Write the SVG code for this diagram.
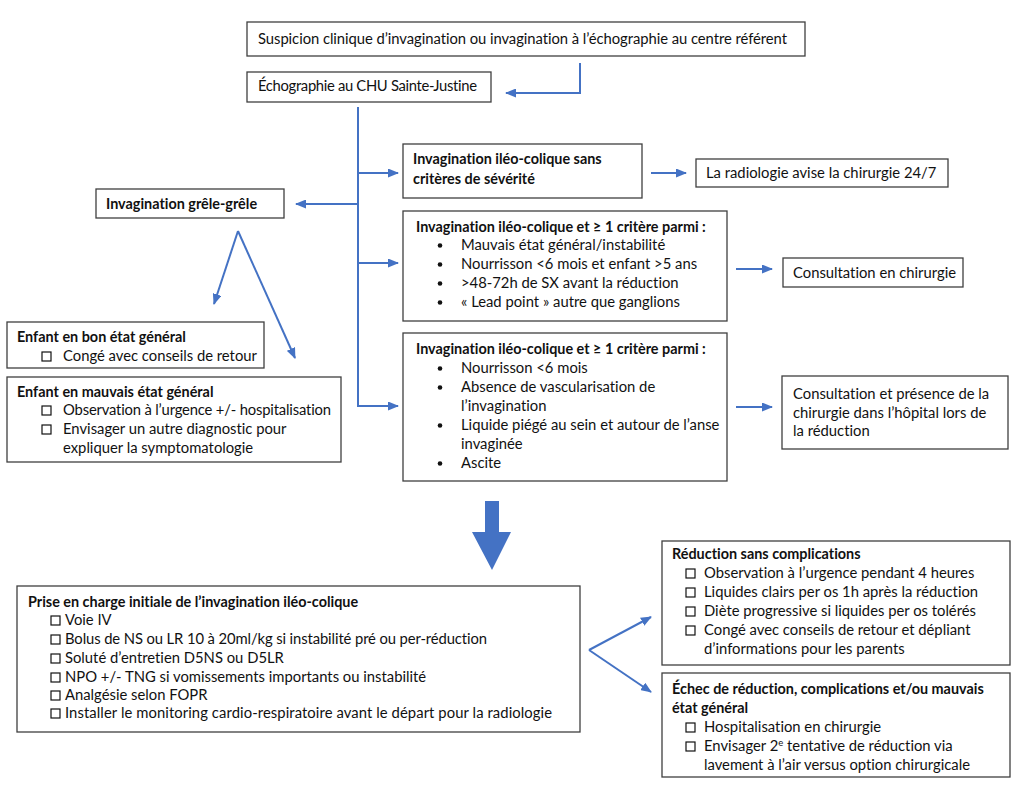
<svg xmlns="http://www.w3.org/2000/svg" width="1024" height="791" viewBox="0 0 1024 791">
<defs>
<style>
.box{fill:#fff;stroke:#3f3f3f;stroke-width:1.3}
.t{font-family:Lato,"Liberation Sans",sans-serif;font-size:14.8px;fill:#111;font-variant-ligatures:none}
.b{font-weight:bold;font-size:14.4px}
.cb{fill:none;stroke:#111;stroke-width:1.2}
.con{fill:none;stroke:#4472C4;stroke-width:2}
.dot{fill:#111}
</style>
<marker id="ah" markerUnits="userSpaceOnUse" markerWidth="11" markerHeight="9" refX="10" refY="4.5" orient="auto">
<path d="M0,0 L11,4.5 L0,9 z" fill="#4472C4"/>
</marker>
</defs>
<rect width="1024" height="791" fill="#fff"/>

<g id="connectors">
<path class="con" d="M580,63 V93 H506" marker-end="url(#ah)"/>
<path class="con" d="M358,107 V407"/>
<path class="con" d="M358,173 H398" marker-end="url(#ah)"/>
<path class="con" d="M358,263 H398" marker-end="url(#ah)"/>
<path class="con" d="M358,406 H398" marker-end="url(#ah)"/>
<path class="con" d="M358,204 H296" marker-end="url(#ah)"/>
<path class="con" d="M651,173 H686" marker-end="url(#ah)"/>
<path class="con" d="M736,269 H772" marker-end="url(#ah)"/>
<path class="con" d="M736,407 H772" marker-end="url(#ah)"/>
<path class="con" d="M238,231 L214,304" marker-end="url(#ah)"/>
<path class="con" d="M238,231 L295,358" marker-end="url(#ah)"/>
<path class="con" d="M589,650 L651,617" marker-end="url(#ah)"/>
<path class="con" d="M589,650 L651,692" marker-end="url(#ah)"/>
<polygon points="485,501 499,501 499,532 511,532 492,570 472,532 485,532" fill="#4472C4"/>
</g>

<g id="n-suspicion">
<rect class="box" x="247" y="22" width="558" height="34"/>
<text class="t" x="258" y="44" textLength="529">Suspicion clinique d’invagination ou invagination à l’échographie au centre référent</text>
</g>

<g id="n-echo">
<rect class="box" x="247" y="72" width="244" height="30"/>
<text class="t" x="258" y="91" textLength="219">Échographie au CHU Sainte-Justine</text>
</g>

<g id="n-sans">
<rect class="box" x="403" y="144" width="239" height="54"/>
<text class="t b" x="413" y="164">Invagination iléo-colique sans</text>
<text class="t b" x="413" y="184">critères de sévérité</text>
</g>

<g id="n-radiologie">
<rect class="box" x="696" y="159" width="252" height="28"/>
<text class="t" x="706" y="178">La radiologie avise la chirurgie 24/7</text>
</g>

<g id="n-crit1">
<rect class="box" x="403" y="211" width="324" height="110"/>
<text class="t b" x="416" y="232">Invagination iléo-colique et ≥ 1 critère parmi :</text>
<circle class="dot" cx="440" cy="245.5" r="2.3"/>
<text class="t" x="461" y="250">Mauvais état général/instabilité</text>
<circle class="dot" cx="440" cy="264.5" r="2.3"/>
<text class="t" x="461" y="269">Nourrisson &lt;6 mois et enfant &gt;5 ans</text>
<circle class="dot" cx="440" cy="283.5" r="2.3"/>
<text class="t" x="461" y="288">&gt;48-72h de SX avant la réduction</text>
<circle class="dot" cx="440" cy="302.5" r="2.3"/>
<text class="t" x="461" y="307">« Lead point » autre que ganglions</text>
</g>

<g id="n-consult1">
<rect class="box" x="783" y="258" width="180" height="29"/>
<text class="t" x="793" y="278">Consultation en chirurgie</text>
</g>

<g id="n-crit2">
<rect class="box" x="403" y="333" width="324" height="148"/>
<text class="t b" x="416" y="354">Invagination iléo-colique et ≥ 1 critère parmi :</text>
<circle class="dot" cx="440" cy="368.5" r="2.3"/>
<text class="t" x="461" y="373">Nourrisson &lt;6 mois</text>
<circle class="dot" cx="440" cy="387.5" r="2.3"/>
<text class="t" x="461" y="392">Absence de vascularisation de</text>
<text class="t" x="461" y="411">l’invagination</text>
<circle class="dot" cx="440" cy="425.5" r="2.3"/>
<text class="t" x="461" y="430">Liquide piégé au sein et autour de l’anse</text>
<text class="t" x="461" y="449">invaginée</text>
<circle class="dot" cx="440" cy="463.5" r="2.3"/>
<text class="t" x="461" y="468">Ascite</text>
</g>

<g id="n-consult2">
<rect class="box" x="782" y="376" width="226" height="73"/>
<text class="t" x="793" y="399">Consultation et présence de la</text>
<text class="t" x="793" y="418">chirurgie dans l’hôpital lors de</text>
<text class="t" x="793" y="436">la réduction</text>
</g>

<g id="n-grele">
<rect class="box" x="96" y="189" width="188" height="29"/>
<text class="t b" x="106" y="209">Invagination grêle-grêle</text>
</g>

<g id="n-bon">
<rect class="box" x="7" y="322" width="257" height="46"/>
<text class="t b" x="17" y="342">Enfant en bon état général</text>
<rect class="cb" x="42" y="352" width="9" height="9"/>
<text class="t" x="63" y="361">Congé avec conseils de retour</text>
</g>

<g id="n-mauvais">
<rect class="box" x="7" y="377" width="334" height="85"/>
<text class="t b" x="17" y="397">Enfant en mauvais état général</text>
<rect class="cb" x="42" y="406" width="9" height="9"/>
<text class="t" x="63" y="415" textLength="268">Observation à l’urgence +/- hospitalisation</text>
<rect class="cb" x="42" y="425" width="9" height="9"/>
<text class="t" x="63" y="434">Envisager un autre diagnostic pour</text>
<text class="t" x="63" y="453">expliquer la symptomatologie</text>
</g>

<g id="n-prise">
<rect class="box" x="17" y="586" width="563" height="146"/>
<text class="t b" x="28" y="607">Prise en charge initiale de l’invagination iléo-colique</text>
<rect class="cb" x="51" y="616" width="9" height="9"/>
<text class="t" x="65" y="625">Voie IV</text>
<rect class="cb" x="51" y="635" width="9" height="9"/>
<text class="t" x="65" y="644" textLength="422">Bolus de NS ou LR 10 à 20ml/kg si instabilité pré ou per-réduction</text>
<rect class="cb" x="51" y="654" width="9" height="9"/>
<text class="t" x="65" y="663">Soluté d’entretien D5NS ou D5LR</text>
<rect class="cb" x="51" y="673" width="9" height="9"/>
<text class="t" x="65" y="682">NPO +/- TNG si vomissements importants ou instabilité</text>
<rect class="cb" x="51" y="691" width="9" height="9"/>
<text class="t" x="65" y="700">Analgésie selon FOPR</text>
<rect class="cb" x="51" y="709" width="9" height="9"/>
<text class="t" x="65" y="718" textLength="487">Installer le monitoring cardio-respiratoire avant le départ pour la radiologie</text>
</g>

<g id="n-reduction">
<rect class="box" x="662" y="541" width="348" height="124"/>
<text class="t b" x="672" y="559">Réduction sans complications</text>
<rect class="cb" x="686" y="569" width="9" height="9"/>
<text class="t" x="704" y="578">Observation à l’urgence pendant 4 heures</text>
<rect class="cb" x="686" y="588" width="9" height="9"/>
<text class="t" x="704" y="597">Liquides clairs per os 1h après la réduction</text>
<rect class="cb" x="686" y="607" width="9" height="9"/>
<text class="t" x="704" y="616">Diète progressive si liquides per os tolérés</text>
<rect class="cb" x="686" y="626" width="9" height="9"/>
<text class="t" x="704" y="635">Congé avec conseils de retour et dépliant</text>
<text class="t" x="704" y="654">d’informations pour les parents</text>
</g>

<g id="n-echec">
<rect class="box" x="662" y="673" width="348" height="104"/>
<text class="t b" x="672" y="694">Échec de réduction, complications et/ou mauvais</text>
<text class="t b" x="672" y="713">état général</text>
<rect class="cb" x="686" y="723" width="9" height="9"/>
<text class="t" x="704" y="732">Hospitalisation en chirurgie</text>
<rect class="cb" x="686" y="742" width="9" height="9"/>
<text class="t" x="704" y="751">Envisager 2<tspan font-size="9.5" dy="-5">e</tspan><tspan dy="5"> tentative de réduction via</tspan></text>
<text class="t" x="704" y="770">lavement à l’air versus option chirurgicale</text>
</g>
</svg>
